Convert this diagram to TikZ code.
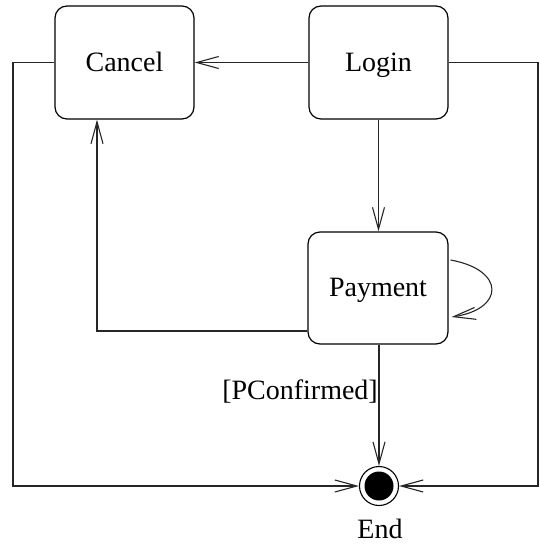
\documentclass[tikz,border=0pt]{standalone}
\usepackage{fontspec}
\setmainfont{Liberation Serif}
\usetikzlibrary{arrows.meta}
\begin{document}
\begin{tikzpicture}[x=1pt,y=-1pt,
  state/.style={draw, line width=1.2pt, rounded corners=12pt, minimum width=139pt, minimum height=113pt, inner sep=0pt, text height=19pt, text depth=2pt, font=\fontsize{28}{33}\selectfont},
  conn/.style={line width=1.1pt, draw=black!85},
  arr/.style={conn, -{Straight Barb[length=22pt,width=12pt,line width=1.1pt]}},
  lbl/.style={font=\fontsize{28}{33}\selectfont, inner sep=0pt}]
\useasboundingbox (0,0) rectangle (539,544);
\node[state] (cancel) at (124.5,62.5) {Cancel};
\node[state] (login) at (378.5,62.5) {Login};
\node[state, minimum width=140pt, minimum height=112pt] (pay) at (378,288) {Payment};
\node[circle, draw, line width=1.1pt, minimum size=39pt, inner sep=0pt] (end) at (379,486) {};
\fill (end.center) circle (14.5pt);
\node[lbl, anchor=base] (endlbl) at (380,538) {End};
\coordinate (cl) at (13,62.5);
\coordinate (lr) at (538,62.5);
\coordinate (pl) at (97,331);
\draw[arr] (login.west) -- (cancel.east);
\draw[arr] (login.south) -- (login.south |- pay.north);
\draw[arr] (cancel.west) -- (cl) |- (end.west);
\draw[arr] (login.east) -- (lr) |- (end.east);
\draw[arr] (pay.west |- pl) -| (cancel.south -| pl);
\draw[arr] (pay.south -| end.north) -- (end.north);
\node[lbl, anchor=base east] (guard) at (378,399) {[PConfirmed]};
\draw[arr] ([yshift=28pt,xshift=2pt]pay.east) .. controls +(55,10) and +(53,-8) .. ([yshift=-29pt,xshift=3pt]pay.east);
\end{tikzpicture}
\end{document}
